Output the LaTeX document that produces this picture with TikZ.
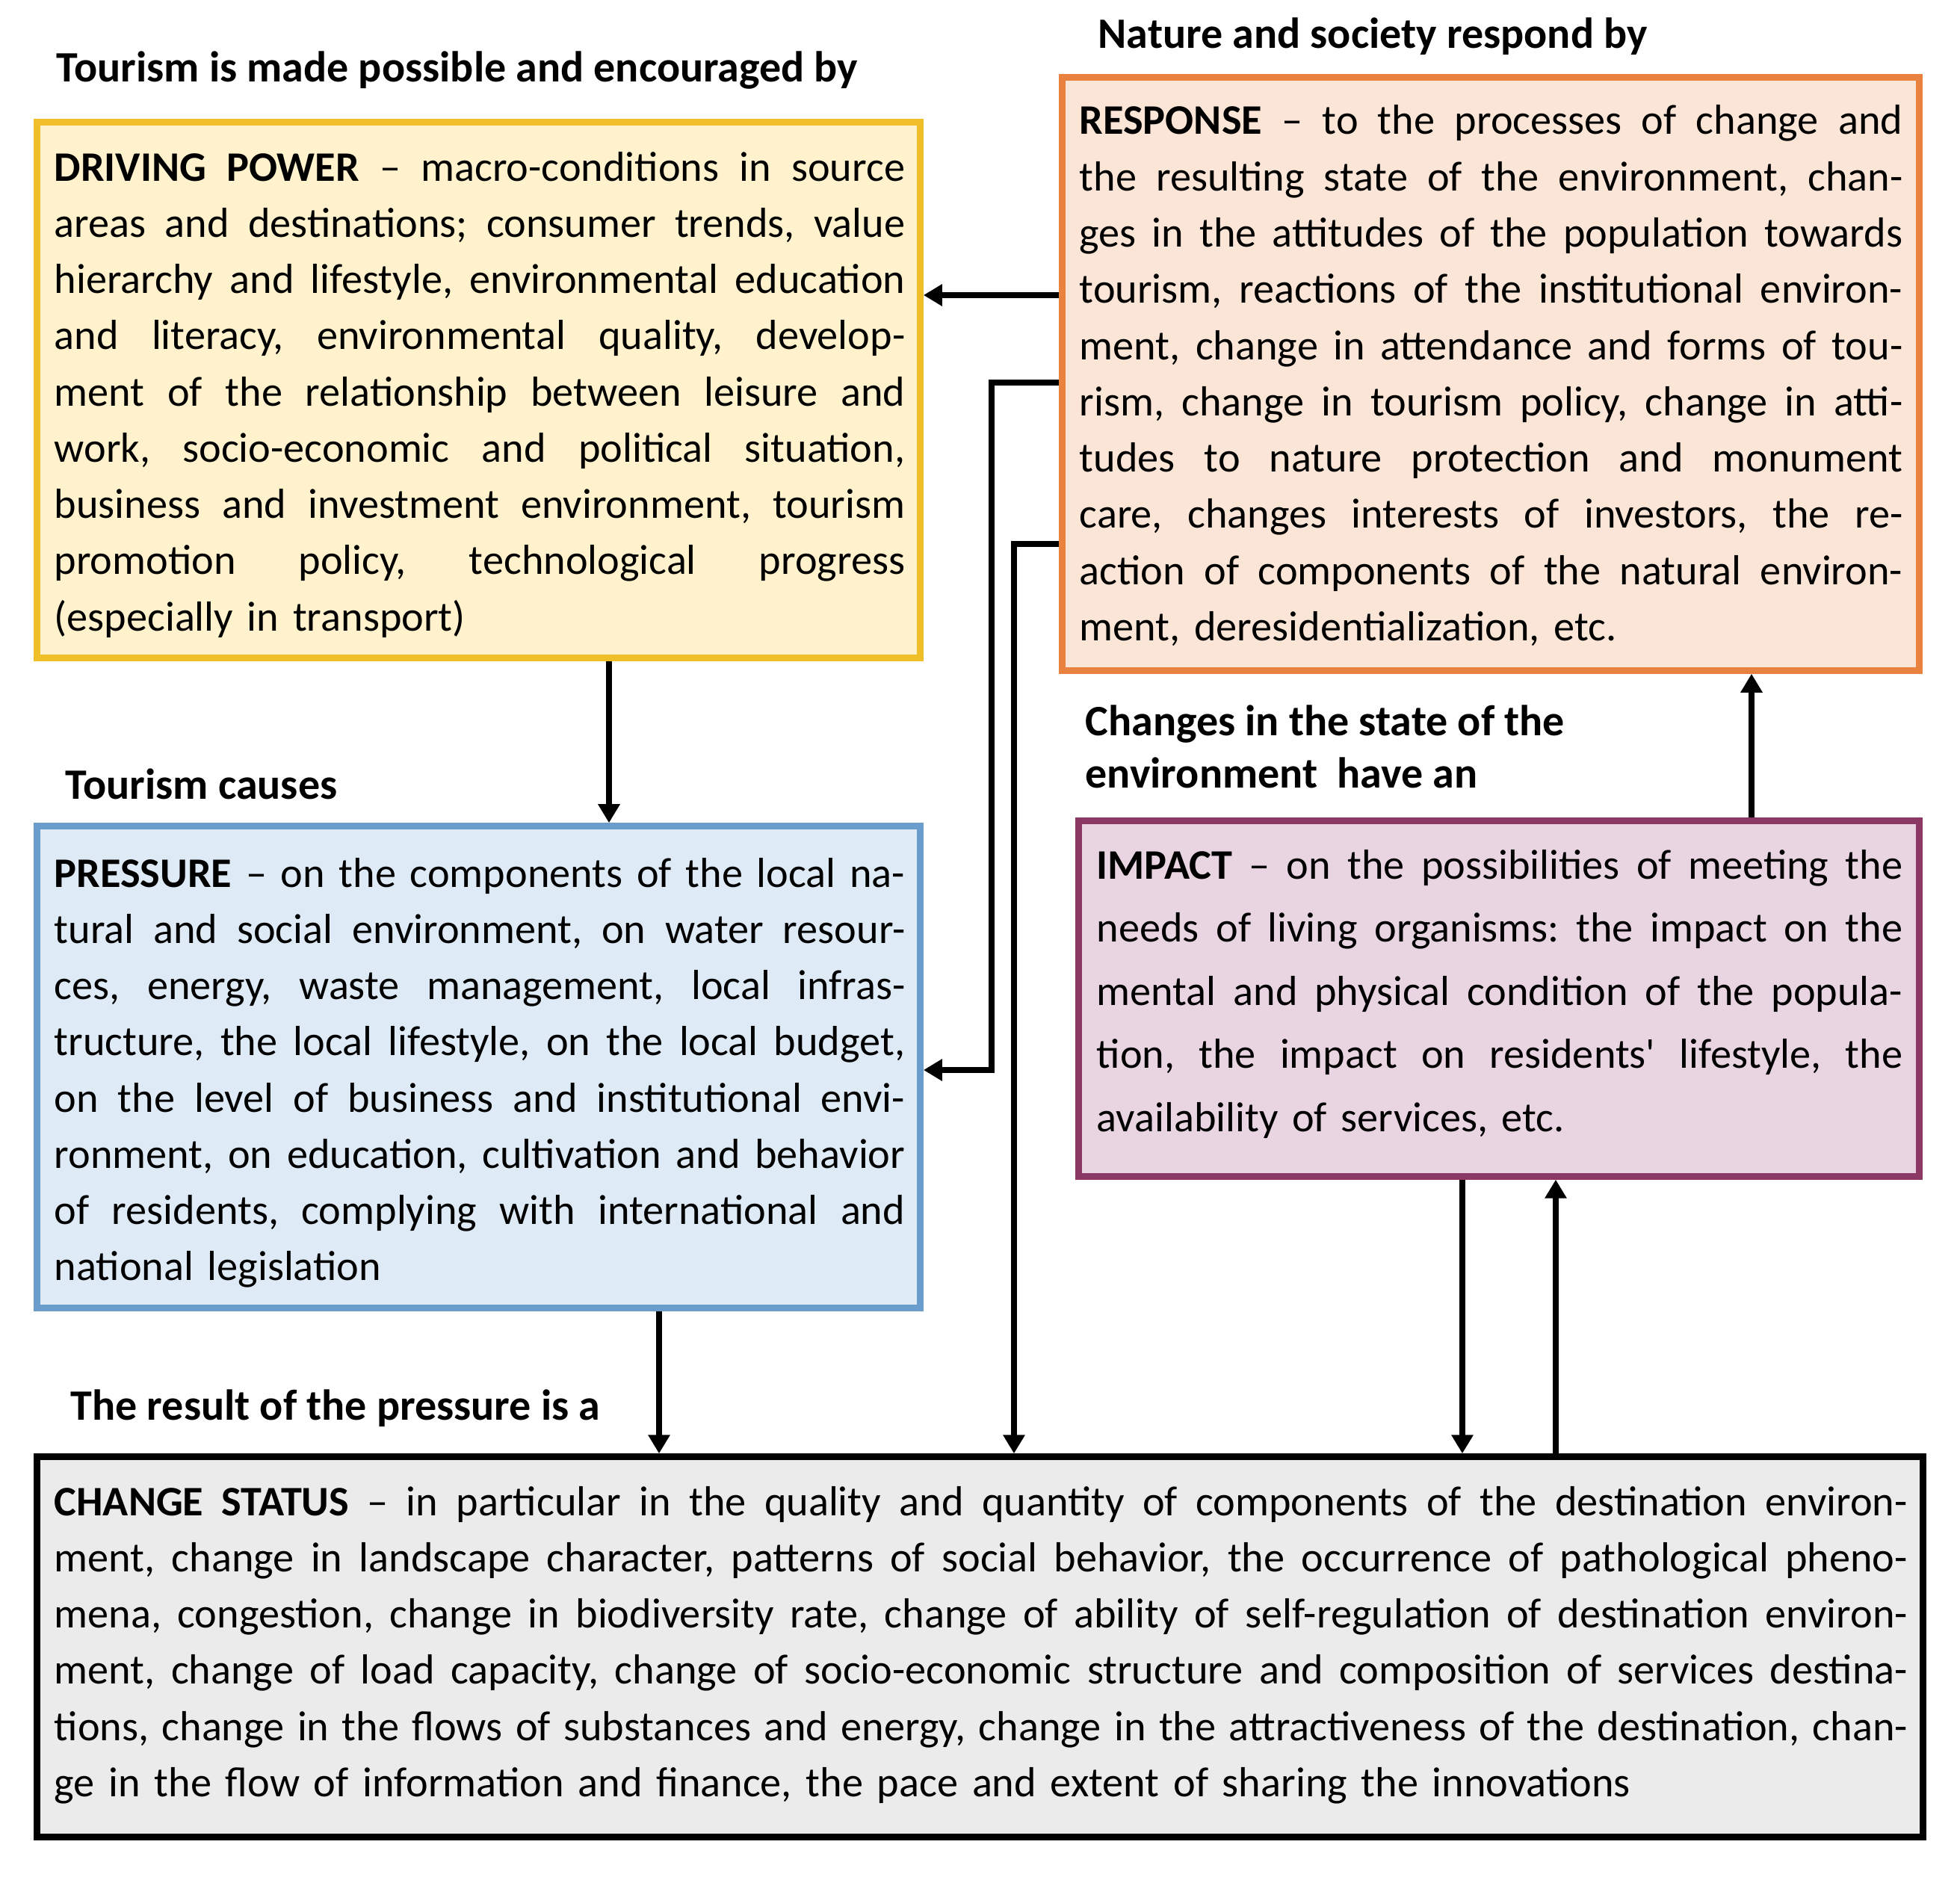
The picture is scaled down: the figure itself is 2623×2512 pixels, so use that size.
\documentclass[tikz,border=0pt]{standalone}
\usepackage{fontspec}
\setmainfont{Carlito}
\usetikzlibrary{arrows.meta}
\definecolor{dpfill}{RGB}{255,242,204}
\definecolor{dpdraw}{RGB}{240,190,40}
\definecolor{rsfill}{RGB}{251,229,214}
\definecolor{rsdraw}{RGB}{232,130,62}
\definecolor{prfill}{RGB}{222,235,247}
\definecolor{prdraw}{RGB}{106,156,204}
\definecolor{imfill}{RGB}{233,213,226}
\definecolor{imdraw}{RGB}{140,56,100}
\definecolor{chfill}{RGB}{235,235,235}
\def\jw{11.38cm}
\newcommand\jl[1]{\leavevmode\hbox to \jw{\frenchspacing\spaceskip=0.226em plus 1fil minus 0.05em\relax #1}\\}
\tikzset{
  box/.style={draw, line width=2.6pt, inner sep=0pt, rectangle},
  txt/.style={anchor=base west, inner sep=0pt, align=left, font=\fontsize{16}{21.4}\selectfont},
  lab/.style={anchor=base west, inner sep=0pt, font=\fontsize{16.5}{21.4}\selectfont\bfseries},
  arr/.style={line width=2.3pt, -{Triangle[length=0.25cm,width=0.28cm]}},
}
\begin{document}
\begin{tikzpicture}[x=0.01cm, y=-0.01cm]
\useasboundingbox[fill=white] (0,0) rectangle (2623,2512);

% boxes
\node[box, draw=dpdraw, fill=dpfill, minimum width=11.81cm, minimum height=7.16cm] (dp) at (640.5,522) {};
\node[box, draw=prdraw, fill=prfill, minimum width=11.81cm, minimum height=6.44cm] (pr) at (640.5,1428) {};
\node[box, draw=rsdraw, fill=rsfill, minimum width=11.46cm, minimum height=7.93cm] (rs) at (1995,500.5) {};
\node[box, draw=imdraw, fill=imfill, minimum width=11.24cm, minimum height=4.75cm] (im) at (2006,1336.5) {};
\node[box, draw=black, fill=chfill, minimum width=25.23cm, minimum height=5.08cm] (ch) at (1311.5,2204) {};

% labels
\node[lab] (l1) at (75,110) {Tourism is made possible and encouraged by};
\node[lab] (l2) at (1469,65) {Nature and society respond by};
\node[lab] (l3) at (87,1069) {Tourism causes};
\node[lab] (l4a) at (1452,984) {Changes in the state of the};
\node[lab] (l4b) at (1452,1054) {environment\ \ have an};
\node[lab] (l5) at (94,1900) {The result of the pressure is a};

% texts
\def\jw{11.38cm}
\node[txt, text width=11.38cm] (dpt) at (72,242) {%
\jl{\textbf{DRIVING POWER} – macro-conditions in source}
\jl{areas and destinations; consumer trends, value}
\jl{hierarchy and lifestyle, environmental education}
\jl{and literacy, environmental quality, develop-}
\jl{ment of the relationship between leisure and}
\jl{work, socio-economic and political situation,}
\jl{business and investment environment, tourism}
\jl{promotion policy, technological progress}
(especially in transport)};

\node[txt, text width=11.38cm] (prt) at (72,1187) {%
\jl{\textbf{PRESSURE} – on the components of the local na-}
\jl{tural and social environment, on water resour-}
\jl{ces, energy, waste management, local infras-}
\jl{tructure, the local lifestyle, on the local budget,}
\jl{on the level of business and institutional envi-}
\jl{ronment, on education, cultivation and behavior}
\jl{of residents, complying with international and}
national legislation};

\def\jw{11.01cm}
\node[txt, text width=11.01cm] (rst) at (1444,180) {%
\jl{\textbf{RESPONSE} – to the processes of change and}
\jl{the resulting state of the environment, chan-}
\jl{ges in the attitudes of the population towards}
\jl{tourism, reactions of the institutional environ-}
\jl{ment, change in attendance and forms of tou-}
\jl{rism, change in tourism policy, change in atti-}
\jl{tudes to nature protection and monument}
\jl{care, changes interests of investors, the re-}
\jl{action of components of the natural environ-}
ment, deresidentialization, etc.};

\def\jw{10.78cm}
\node[txt, text width=10.78cm, font=\fontsize{16}{24.05}\selectfont] (imt) at (1467,1176) {%
\jl{\textbf{IMPACT} – on the possibilities of meeting the}
\jl{needs of living organisms: the impact on the}
\jl{mental and physical condition of the popula-}
\jl{tion, the impact on residents\textquotesingle{} lifestyle, the}
availability of services, etc.};

\def\jw{24.79cm}
\node[txt, text width=24.79cm] (cht) at (72,2028) {%
\jl{\textbf{CHANGE STATUS} – in particular in the quality and quantity of components of the destination environ-}
\jl{ment, change in landscape character, patterns of social behavior, the occurrence of pathological pheno-}
\jl{mena, congestion, change in biodiversity rate, change of ability of self-regulation of destination environ-}
\jl{ment, change of load capacity, change of socio-economic structure and composition of services destina-}
\jl{tions, change in the flows of substances and energy, change in the attractiveness of the destination, chan-}
ge in the flow of information and finance, the pace and extent of sharing the innovations};

% connectors
\coordinate (a1) at (0,395);
\draw[arr] (rs.west |- a1) -- (dp.east |- a1);
\coordinate (k1) at (1327,512);
\coordinate (k2) at (1327,1432);
\draw[arr] (rs.west |- k1) -- (k1) -- (k2) -- (pr.east |- k2);
\coordinate (k3) at (1357,728);
\draw[arr] (rs.west |- k3) -- (k3) -- (ch.north -| k3);
\coordinate (c4) at (815,0);
\draw[arr] (dp.south -| c4) -- (pr.north -| c4);
\coordinate (c5) at (882,0);
\draw[arr] (pr.south -| c5) -- (ch.north -| c5);
\coordinate (c6) at (1957,0);
\draw[arr] (im.south -| c6) -- (ch.north -| c6);
\coordinate (c7) at (2082,0);
\draw[arr] (ch.north -| c7) -- (im.south -| c7);
\coordinate (c8) at (2344,0);
\draw[arr] (im.north -| c8) -- (rs.south -| c8);
\end{tikzpicture}
\end{document}
